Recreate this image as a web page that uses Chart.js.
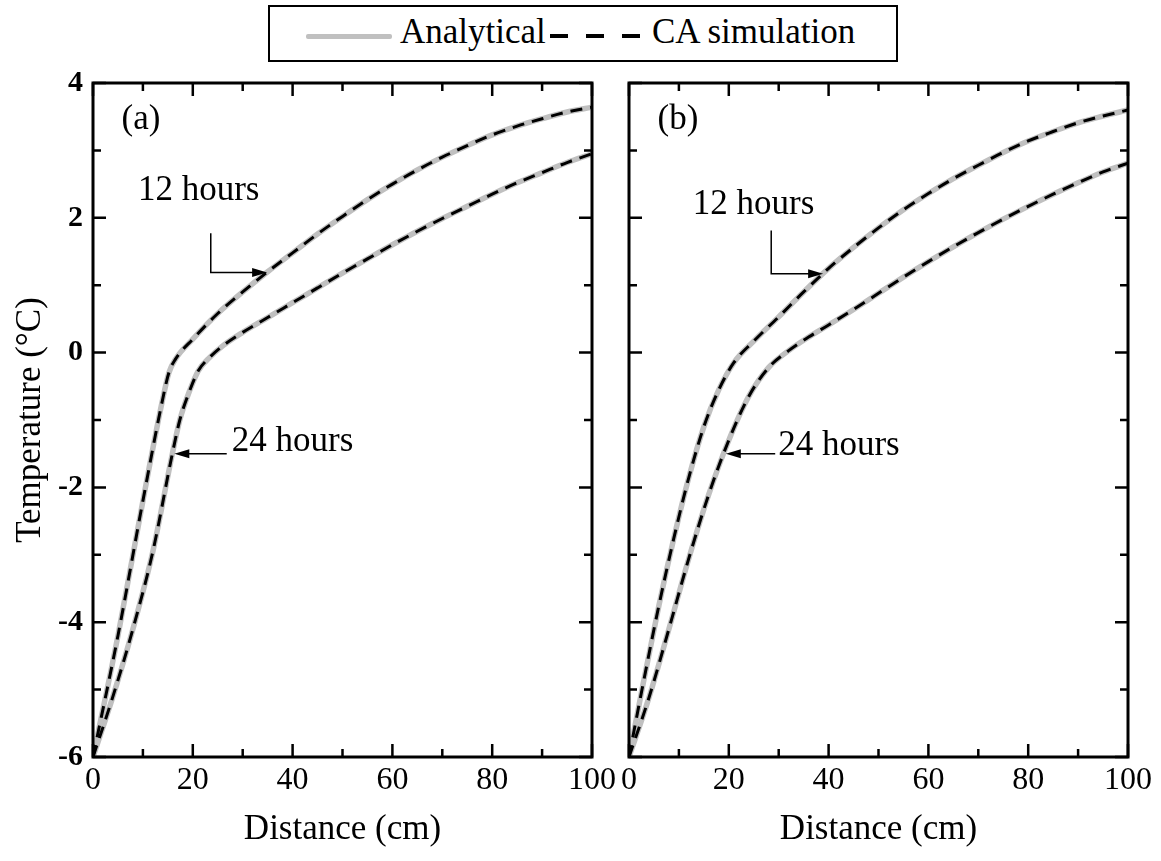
<!DOCTYPE html>
<html>
<head>
<meta charset="utf-8">
<script src="https://cdn.jsdelivr.net/npm/chart.js@4.4.1/dist/chart.umd.min.js"></script>
<style>
  html, body { margin: 0; padding: 0; background: #fff; }
  body { width: 1161px; height: 861px; position: relative; overflow: hidden; font-family: "Liberation Serif", "Times New Roman", serif; }
  canvas { position: absolute; top: 0; }
  #chartA { left: 0; }
  #chartB { left: 600px; }
  #legend { position: absolute; left: 268px; top: 5px; width: 626px; height: 53px; border: 2px solid #000; background: #fff; z-index: 2; }
  #legend .sample { position: absolute; top: 27px; height: 4px; }
  #legend .txt { position: absolute; top: 5px; font-size: 35px; line-height: 40px; color: #000; white-space: nowrap; }
</style>
</head>
<body>
<div id="legend">
  <div class="sample" style="left:36px;width:86px;height:5px;background:#c0c0c0;border-radius:2px"></div>
  <div class="txt" style="left:130px">Analytical</div>
  <div class="sample" style="left:280px;width:90px;background:repeating-linear-gradient(to right,#000 0 18px,transparent 18px 36px)"></div>
  <div class="txt" style="left:382px">CA simulation</div>
</div>
<canvas id="chartA" width="640" height="861"></canvas>
<canvas id="chartB" width="561" height="861"></canvas>
<script>
// axis ticks
const xTicks = [0, 20, 40, 60, 80, 100];
const yTicks = [-6, -4, -2, 0, 2, 4];

// panel (a): distance (cm) / temperature (°C)
// analytical and CA simulation overlap in the figure, so both use the same readings
const distA12 = [0, 5, 10, 13.8, 15.2, 16.5, 20, 25, 30, 35, 40, 45, 50, 55, 60, 65, 70, 75, 80, 85, 90, 95, 100];
const tempA12 = [-6, -4.2, -2.2, -0.75, -0.3, -0.1, 0.2, 0.58, 0.9, 1.2, 1.48, 1.76, 2.02, 2.27, 2.5, 2.71, 2.9, 3.07, 3.23, 3.36, 3.47, 3.57, 3.64];
const distA24 = [0, 4, 8, 12, 15.9, 17.4, 19.4, 21.1, 23.4, 26, 30, 35, 40, 45, 50, 55, 60, 65, 70, 75, 80, 85, 90, 95, 100];
const tempA24 = [-6, -5.1, -4.1, -2.95, -1.5, -1.0, -0.56, -0.27, -0.07, 0.1, 0.3, 0.52, 0.74, 0.96, 1.18, 1.39, 1.6, 1.8, 1.99, 2.17, 2.35, 2.52, 2.67, 2.82, 2.95];

// panel (b)
const distB12 = [0, 3, 6, 9, 12, 15, 18, 21, 25, 30, 35, 40, 45, 50, 55, 60, 65, 70, 75, 80, 85, 90, 95, 100];
const tempB12 = [-6, -4.85, -3.75, -2.75, -1.85, -1.1, -0.55, -0.15, 0.17, 0.53, 0.9, 1.25, 1.56, 1.85, 2.12, 2.36, 2.58, 2.78, 2.97, 3.14, 3.28, 3.41, 3.51, 3.6];
const distB24 = [0, 4, 8, 12, 16, 20, 24, 28, 32, 36, 40, 45, 50, 55, 60, 65, 70, 75, 80, 85, 90, 95, 100];
const tempB24 = [-6, -5.12, -4.1, -3.05, -2.1, -1.3, -0.65, -0.22, 0.03, 0.23, 0.41, 0.64, 0.88, 1.12, 1.35, 1.57, 1.78, 1.98, 2.17, 2.35, 2.52, 2.68, 2.81];

const FONT = '"Liberation Serif", "Times New Roman", serif';
const pts = (xs, ys) => xs.map((x, i) => ({ x, y: ys[i] }));

function curveSets(xs, ys) {
  return [
    { label: "Analytical", data: pts(xs, ys), borderColor: "#c0c0c0", borderWidth: 5.5, order: 2 },
    { label: "CA simulation", data: pts(xs, ys), borderColor: "#000", borderWidth: 3, borderDash: [12, 8], order: 1 }
  ];
}

// box + inward ticks on all four sides
const framePlugin = {
  id: "frame",
  afterDatasetsDraw(chart) {
    const { ctx, chartArea: a, scales: { x, y } } = chart;
    ctx.save();
    ctx.strokeStyle = "#000";
    ctx.lineWidth = 2.5;
    ctx.beginPath();
    for (let v = 0; v <= 100; v += 10) {
      const px = x.getPixelForValue(v);
      const len = xTicks.includes(v) ? 13 : 8;
      ctx.moveTo(px, a.bottom); ctx.lineTo(px, a.bottom - len);
      ctx.moveTo(px, a.top); ctx.lineTo(px, a.top + len);
    }
    for (let v = -6; v <= 4; v++) {
      const py = y.getPixelForValue(v);
      const len = yTicks.includes(v) ? 13 : 8;
      ctx.moveTo(a.left, py); ctx.lineTo(a.left + len, py);
      ctx.moveTo(a.right, py); ctx.lineTo(a.right - len, py);
    }
    ctx.stroke();
    ctx.lineWidth = 3;
    ctx.strokeRect(a.left, a.top, a.right - a.left, a.bottom - a.top);
    ctx.restore();
  }
};

// text labels and arrows, placed in data units
const notesPlugin = {
  id: "notes",
  afterDraw(chart, args, opts) {
    const { ctx, scales: { x, y } } = chart;
    ctx.save();
    ctx.fillStyle = "#000";
    ctx.strokeStyle = "#000";
    ctx.font = "35px " + FONT;
    ctx.textBaseline = "middle";
    (opts.texts || []).forEach(t => {
      ctx.textAlign = t.align || "left";
      ctx.fillText(t.text, x.getPixelForValue(t.x), y.getPixelForValue(t.y));
    });
    ctx.lineWidth = 1.5;
    (opts.arrows || []).forEach(path => {
      const p = path.map(([vx, vy]) => [x.getPixelForValue(vx), y.getPixelForValue(vy)]);
      const [ex, ey] = p[p.length - 1];
      const [sx, sy] = p[p.length - 2];
      const ang = Math.atan2(ey - sy, ex - sx);
      ctx.beginPath();
      ctx.moveTo(p[0][0], p[0][1]);
      for (let i = 1; i < p.length - 1; i++) ctx.lineTo(p[i][0], p[i][1]);
      ctx.lineTo(ex - 12 * Math.cos(ang), ey - 12 * Math.sin(ang));
      ctx.stroke();
      ctx.beginPath();
      ctx.moveTo(ex, ey);
      ctx.lineTo(ex - 15 * Math.cos(ang) + 4.5 * Math.sin(ang), ey - 15 * Math.sin(ang) - 4.5 * Math.cos(ang));
      ctx.lineTo(ex - 15 * Math.cos(ang) - 4.5 * Math.sin(ang), ey - 15 * Math.sin(ang) + 4.5 * Math.cos(ang));
      ctx.closePath();
      ctx.fill();
    });
    ctx.restore();
  }
};

function makeChart(id, sets, withY, pad, notes) {
  return new Chart(document.getElementById(id), {
    type: "line",
    data: { datasets: sets },
    options: {
      responsive: false,
      animation: false,
      events: [],
      layout: { padding: pad },
      elements: { point: { radius: 0 }, line: { cubicInterpolationMode: "monotone", fill: false } },
      plugins: { legend: { display: false }, tooltip: { enabled: false }, notes },
      scales: {
        x: {
          type: "linear", min: 0, max: 100,
          afterBuildTicks: s => { s.ticks = xTicks.map(v => ({ value: v })); },
          ticks: { autoSkip: false, maxRotation: 0, color: "#000", padding: 4, font: { family: FONT, size: 32 } },
          grid: { display: false, drawTicks: false },
          border: { display: false },
          title: { display: true, text: "Distance (cm)", color: "#000", font: { family: FONT, size: 35 }, padding: { top: 0, bottom: 10 } },
          afterFit: s => { s.height = 104; }
        },
        y: {
          type: "linear", min: -6, max: 4, display: withY,
          afterBuildTicks: s => { s.ticks = yTicks.map(v => ({ value: v })); },
          ticks: { color: "#000", padding: 10, font: { family: FONT, size: 30, weight: "bold" } },
          grid: { display: false, drawTicks: false },
          border: { display: false },
          title: { display: true, text: "Temperature (°C)", color: "#000", font: { family: FONT, size: 35 }, padding: { top: 10, bottom: 0 } },
          afterFit: s => { if (withY) s.width = 93; }
        }
      }
    },
    plugins: [framePlugin, notesPlugin]
  });
}

makeChart("chartA", [...curveSets(distA12, tempA12), ...curveSets(distA24, tempA24)], true,
  { top: 83, right: 48, left: 0, bottom: 0 },
  {
    texts: [
      { text: "(a)", x: 9.6, y: 3.45, align: "center" },
      { text: "12 hours", x: 9.0, y: 2.4 },
      { text: "24 hours", x: 27.8, y: -1.33 }
    ],
    arrows: [
      [[23.6, 1.77], [23.6, 1.19], [34.9, 1.19]],
      [[26.8, -1.5], [16.3, -1.5]]
    ]
  });

makeChart("chartB", [...curveSets(distB12, tempB12), ...curveSets(distB24, tempB24)], false,
  { top: 83, right: 33, left: 29, bottom: 0 },
  {
    texts: [
      { text: "(b)", x: 9.8, y: 3.45, align: "center" },
      { text: "12 hours", x: 12.8, y: 2.2 },
      { text: "24 hours", x: 29.9, y: -1.38 }
    ],
    arrows: [
      [[28.5, 1.81], [28.5, 1.17], [38.9, 1.17]],
      [[29.3, -1.5], [19.4, -1.5]]
    ]
  });
</script>
</body>
</html>
